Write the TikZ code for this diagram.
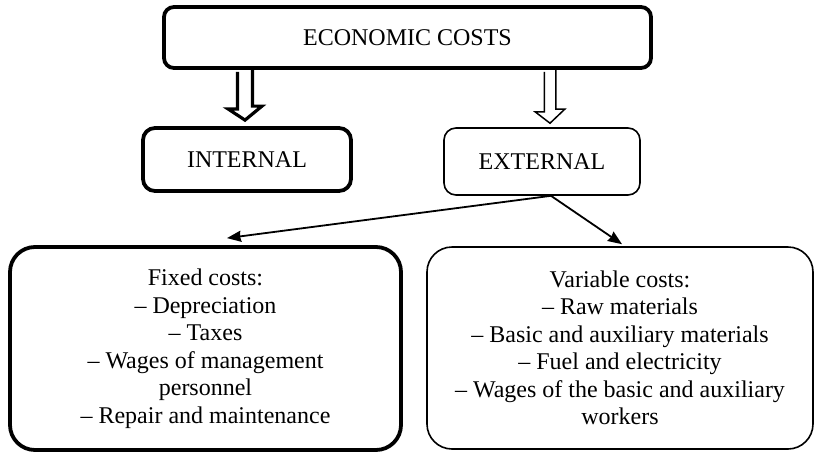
\documentclass[tikz,border=0pt]{standalone}
\usepackage{fontspec}
\setmainfont{Liberation Serif}
\usetikzlibrary{arrows.meta,calc}
\begin{document}
\begin{tikzpicture}[x=1pt,y=-1pt,
  txt/.style={font=\fontsize{24}{27.5}\selectfont,align=center,inner sep=0pt},
  boldbox/.style={txt,draw,fill=white,line width=3.8pt,rounded corners=10pt},
  thinbox/.style={txt,draw,fill=white,line width=1.6pt,rounded corners=10pt},
  bigbold/.style={boldbox,rounded corners=25pt},
  bigthin/.style={thinbox,rounded corners=25pt},
  hollowthick/.style={draw,line width=3.2pt,line join=miter},
  hollowthin/.style={draw,line width=1.5pt,line join=miter},
  link/.style={draw,line width=1.8pt,-{Stealth[length=14pt,width=11pt,inset=1pt]}}]
\useasboundingbox (0,0) rectangle (815,456);

\node[boldbox,minimum width=487,minimum height=61] (eco) at (407.5,37.5) {ECONOMIC COSTS};
\node[boldbox,minimum width=208,minimum height=63,rounded corners=12pt] (intl) at (247,159.5) {INTERNAL};
\node[thinbox,minimum width=196,minimum height=67,rounded corners=12pt] (ext) at (542,161.5) {EXTERNAL};

\node[bigbold,minimum width=391,minimum height=203] (fix) at (205.5,348.5)
  {Fixed costs:\\ – Depreciation\\ – Taxes\\ – Wages of management\\ personnel\\ – Repair and maintenance};
\node[bigthin,minimum width=386,minimum height=202] (var) at (620,348)
  {Variable costs:\\ – Raw materials\\ – Basic and auxiliary materials\\ – Fuel and electricity\\ – Wages of the basic and auxiliary\\ workers};

\draw[hollowthick] ($(eco.south -| intl.north)+(-9.5,2)$) -- ++(0,37) -- ++(-9.5,0)
  -- ($(intl.north)+(-2,-6)$) -- ++(17,-14) -- ++(-9.5,0) -- ++(0,-37);
\draw[hollowthin] ($(eco.south -| ext.north)+(2.25,2)$) -- ++(0,40) -- ++(-9,0)
  -- ($(ext.north)+(8,-4)$) -- ++(14.75,-14) -- ++(-9,0) -- ++(0,-40);

\path[link] ($(ext.south)+(9,0)$) -- ($(fix.north)+(21.5,-7)$);
\path[link] ($(ext.south)+(9,0)$) -- ($(var.north)+(2,-2)$);
\end{tikzpicture}
\end{document}
